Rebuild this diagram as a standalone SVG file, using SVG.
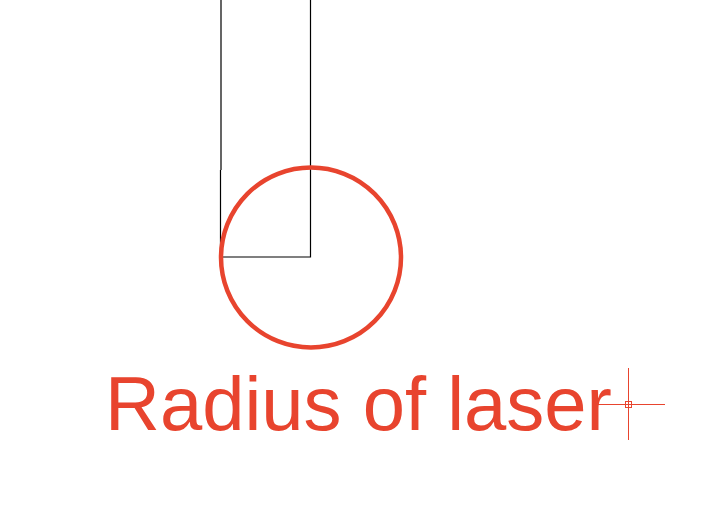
<svg xmlns="http://www.w3.org/2000/svg" width="712" height="507" viewBox="0 0 712 507">
<style>
.blk{stroke:#000;stroke-width:1.2;fill:none}
.red{stroke:#E8442E;fill:none}
</style>
<rect width="712" height="507" fill="#fff"/>
<g id="beam">
<path class="blk" d="M221,0 V170 M220.5,170 V257 H310.5 V0"/>
</g>
<g id="laser">
<circle class="red" cx="311" cy="257.5" r="90" stroke-width="4.5"/>
</g>
<g id="label">
<text x="105" y="430" font-family="Liberation Sans, Arial, sans-serif" font-size="76" fill="#E8442E">Radius of laser</text>
</g>
<g id="cursor">
<path class="red" stroke-width="1" d="M628.5,368 V440 M598,404.5 H665"/>
<rect class="red" stroke-width="1" x="625.5" y="401.5" width="6" height="6" fill="#fff"/>
</g>
</svg>
